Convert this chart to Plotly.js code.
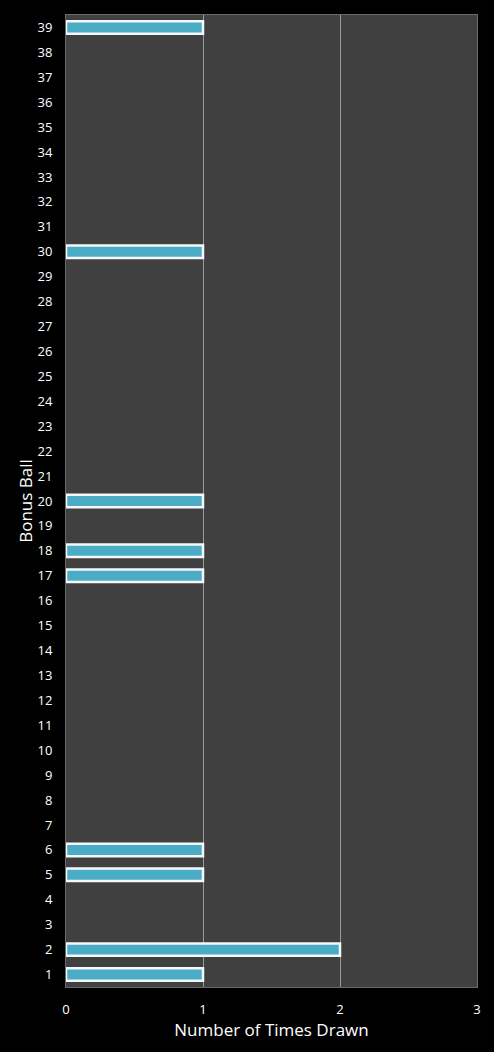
<!DOCTYPE html>
<html>
<head>
<meta charset="utf-8">
<script src="https://cdn.plot.ly/plotly-3.0.1.min.js"></script>
<style>
  html, body { margin: 0; padding: 0; background: #000; }
  #chart { width: 494px; height: 1052px; }
</style>
</head>
<body>
<div id="chart"></div>
<script>
// Bonus ball numbers 1..39 and how often each was drawn
const balls = ["1","2","3","4","5","6","7","8","9","10","11","12","13","14","15","16","17","18","19","20",
  "21","22","23","24","25","26","27","28","29","30","31","32","33","34","35","36","37","38","39"];
const timesDrawn = [1,2,0,0,1,1,0,0,0,0,0,0,0,0,0,0,1,1,0,1,
  0,0,0,0,0,0,0,0,0,1,0,0,0,0,0,0,0,0,1];
const xTicks = [0, 1, 2, 3];

const FONT = "'Open Sans', 'DejaVu Sans', sans-serif";

Plotly.newPlot("chart", [{
  type: "bar",
  orientation: "h",
  y: balls,
  x: timesDrawn.map(v => v === 0 ? null : v),
  width: 0.5,
  marker: {
    color: "#4bacc6",
    line: { color: "#f4f8fa", width: 2.5 },
  },
  hoverinfo: "x+y",
}], {
  width: 494,
  height: 1052,
  paper_bgcolor: "#000000",
  plot_bgcolor: "#404040",
  font: { family: FONT, color: "#ffffff", size: 13 },
  margin: { t: 15, r: 17, b: 65, l: 66 },
  showlegend: false,
  xaxis: {
    range: [0, 3],
    tickvals: xTicks,
    ticks: "",
    showgrid: true,
    gridcolor: "#9a9a9a",
    gridwidth: 1,
    zeroline: false,
    showline: true,
    linecolor: "#6a6a6a",
    mirror: true,
    tickfont: { size: 13, color: "#ffffff" },
    ticklabelstandoff: 10,
    title: { text: "Number of Times Drawn", font: { size: 17, color: "#ffffff" }, standoff: 7 },
  },
  yaxis: {
    type: "category",
    categoryorder: "array",
    categoryarray: balls,
    ticks: "",
    showgrid: false,
    showline: true,
    linecolor: "#6a6a6a",
    mirror: true,
    tickfont: { size: 13, color: "#ffffff" },
    ticklabelstandoff: 10,
    title: { text: "Bonus Ball", font: { size: 17, color: "#ffffff" }, standoff: 0 },
  },
}, { displayModeBar: false });
</script>
</body>
</html>
